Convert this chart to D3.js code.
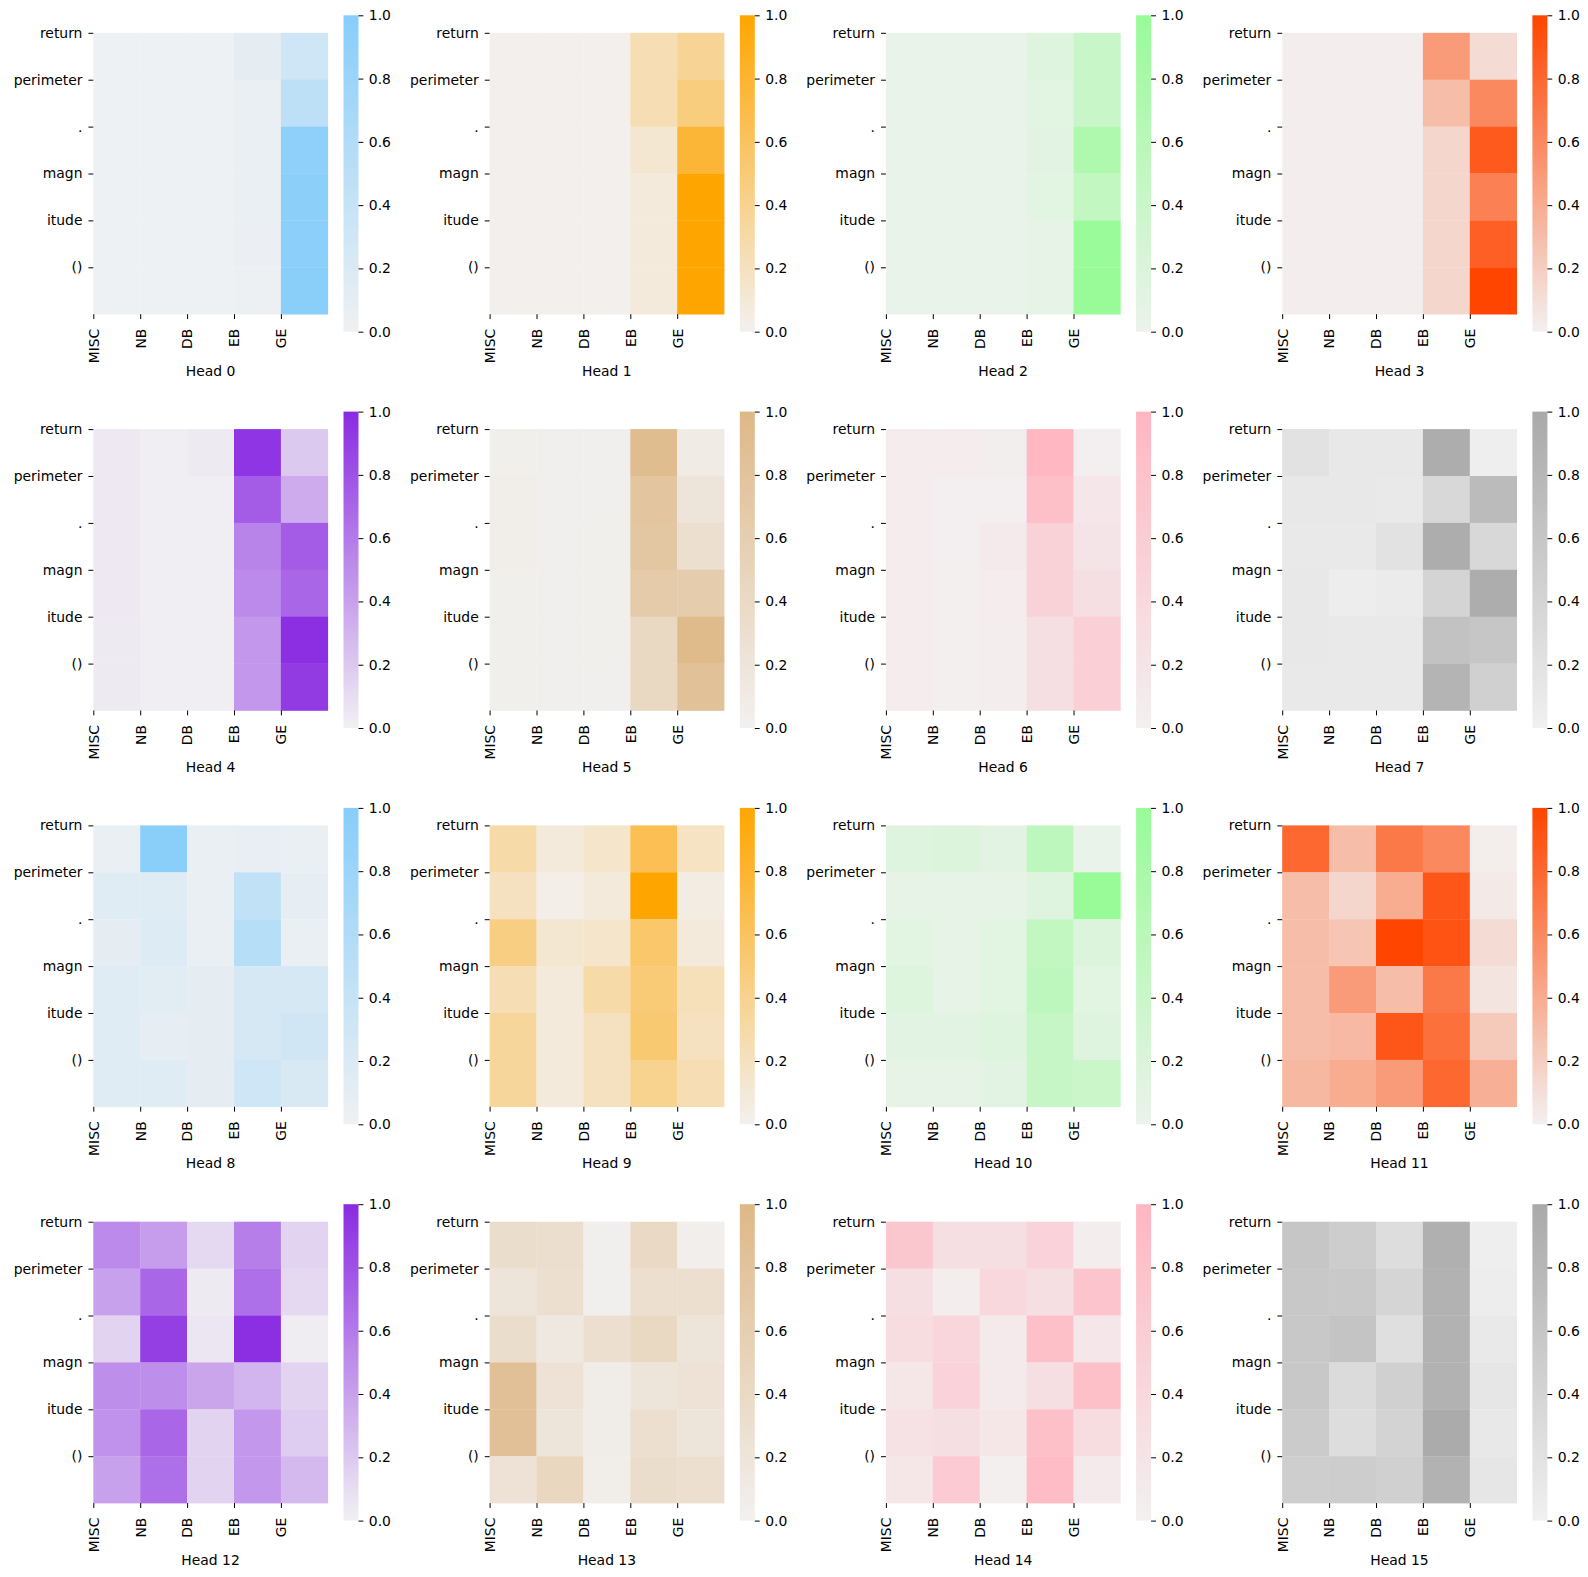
<!DOCTYPE html>
<html>
<head>
<meta charset="utf-8">
<script src="https://cdn.jsdelivr.net/npm/d3@7"></script>
<style>
  body { margin: 0; background: #fff; }
  svg { display: block; font-family: "DejaVu Sans", sans-serif; }
</style>
</head>
<body>
<svg id="chart"></svg>
<script>
// Token rows and category columns
const tokens = ['return', 'perimeter', '.', 'magn', 'itude', '()'];
const categories = ['MISC', 'NB', 'DB', 'EB', 'GE'];
const headColors = ['lightskyblue', 'orange', 'palegreen', 'orangered',
                    'blueviolet', 'burlywood', 'lightpink', 'darkgray'];
const colorbarTicks = [0, 0.2, 0.4, 0.6, 0.8, 1.0];

// Attention per head: one row per token, one column per category
const head0 = [
  [0.01, 0.01, 0.01, 0.10, 0.32],
  [0.01, 0.01, 0.01, 0.06, 0.47],
  [0.01, 0.01, 0.01, 0.05, 0.93],
  [0.01, 0.01, 0.01, 0.05, 0.95],
  [0.01, 0.01, 0.01, 0.04, 0.96],
  [0.01, 0.01, 0.01, 0.02, 0.97]
];
const head1 = [
  [0.01, 0.01, 0.01, 0.25, 0.37],
  [0.01, 0.01, 0.01, 0.25, 0.47],
  [0.01, 0.01, 0.01, 0.12, 0.77],
  [0.01, 0.01, 0.01, 0.08, 1.00],
  [0.01, 0.01, 0.01, 0.08, 1.00],
  [0.01, 0.01, 0.01, 0.08, 1.00]
];
const head2 = [
  [0.02, 0.02, 0.02, 0.15, 0.42],
  [0.02, 0.02, 0.02, 0.12, 0.42],
  [0.02, 0.02, 0.02, 0.10, 0.72],
  [0.02, 0.02, 0.02, 0.12, 0.50],
  [0.02, 0.02, 0.02, 0.05, 0.98],
  [0.02, 0.02, 0.02, 0.05, 1.00]
];
const head3 = [
  [0.01, 0.01, 0.01, 0.50, 0.12],
  [0.01, 0.01, 0.01, 0.30, 0.60],
  [0.01, 0.01, 0.01, 0.15, 0.88],
  [0.01, 0.01, 0.01, 0.15, 0.65],
  [0.01, 0.01, 0.01, 0.15, 0.85],
  [0.01, 0.01, 0.01, 0.15, 1.00]
];
const head4 = [
  [0.04, 0.01, 0.03, 0.95, 0.20],
  [0.04, 0.01, 0.01, 0.75, 0.35],
  [0.04, 0.01, 0.01, 0.55, 0.75],
  [0.04, 0.01, 0.01, 0.52, 0.70],
  [0.03, 0.01, 0.01, 0.45, 0.98],
  [0.03, 0.01, 0.01, 0.45, 0.92]
];
const head5 = [
  [0.03, 0.02, 0.02, 0.92, 0.10],
  [0.05, 0.02, 0.02, 0.77, 0.20],
  [0.05, 0.02, 0.03, 0.74, 0.30],
  [0.03, 0.02, 0.03, 0.67, 0.64],
  [0.03, 0.02, 0.03, 0.42, 0.95],
  [0.03, 0.02, 0.02, 0.42, 0.84]
];
const head6 = [
  [0.06, 0.06, 0.04, 0.98, 0.03],
  [0.06, 0.03, 0.03, 0.85, 0.15],
  [0.06, 0.03, 0.10, 0.52, 0.20],
  [0.06, 0.02, 0.06, 0.52, 0.30],
  [0.06, 0.02, 0.05, 0.30, 0.57],
  [0.06, 0.02, 0.05, 0.30, 0.55]
];
const head7 = [
  [0.20, 0.12, 0.12, 0.95, 0.03],
  [0.12, 0.12, 0.10, 0.35, 0.75],
  [0.10, 0.10, 0.20, 0.95, 0.35],
  [0.12, 0.05, 0.08, 0.40, 0.95],
  [0.12, 0.10, 0.10, 0.65, 0.60],
  [0.10, 0.10, 0.10, 0.85, 0.45]
];
const head8 = [
  [0.05, 0.97, 0.05, 0.07, 0.05],
  [0.15, 0.15, 0.06, 0.45, 0.08],
  [0.10, 0.18, 0.05, 0.55, 0.05],
  [0.15, 0.12, 0.10, 0.25, 0.25],
  [0.15, 0.08, 0.10, 0.25, 0.30],
  [0.15, 0.15, 0.10, 0.32, 0.22]
];
const head9 = [
  [0.30, 0.08, 0.15, 0.65, 0.18],
  [0.20, 0.03, 0.08, 1.00, 0.05],
  [0.45, 0.12, 0.15, 0.55, 0.08],
  [0.25, 0.08, 0.30, 0.50, 0.22],
  [0.35, 0.08, 0.20, 0.52, 0.20],
  [0.35, 0.08, 0.20, 0.40, 0.25]
];
const head10 = [
  [0.15, 0.20, 0.10, 0.55, 0.02],
  [0.06, 0.06, 0.06, 0.15, 1.00],
  [0.12, 0.07, 0.12, 0.50, 0.20],
  [0.17, 0.06, 0.12, 0.55, 0.12],
  [0.10, 0.10, 0.15, 0.45, 0.15],
  [0.05, 0.05, 0.10, 0.45, 0.40]
];
const head11 = [
  [0.80, 0.30, 0.70, 0.60, 0.02],
  [0.30, 0.15, 0.40, 0.90, 0.04],
  [0.30, 0.25, 1.00, 0.92, 0.12],
  [0.30, 0.50, 0.30, 0.70, 0.07],
  [0.30, 0.32, 0.90, 0.75, 0.22],
  [0.33, 0.40, 0.50, 0.80, 0.38]
];
const head12 = [
  [0.52, 0.42, 0.12, 0.58, 0.15],
  [0.40, 0.70, 0.03, 0.65, 0.12],
  [0.15, 0.90, 0.05, 0.98, 0.02],
  [0.50, 0.50, 0.38, 0.30, 0.15],
  [0.48, 0.70, 0.15, 0.45, 0.18],
  [0.40, 0.65, 0.15, 0.45, 0.28]
];
const head13 = [
  [0.35, 0.32, 0.02, 0.40, 0.04],
  [0.20, 0.30, 0.02, 0.30, 0.30],
  [0.35, 0.15, 0.30, 0.42, 0.20],
  [0.85, 0.25, 0.08, 0.20, 0.25],
  [0.85, 0.20, 0.08, 0.30, 0.20],
  [0.25, 0.45, 0.05, 0.35, 0.30]
];
const head14 = [
  [0.70, 0.30, 0.30, 0.50, 0.05],
  [0.30, 0.05, 0.42, 0.30, 0.75],
  [0.35, 0.45, 0.10, 0.85, 0.15],
  [0.18, 0.50, 0.10, 0.30, 0.85],
  [0.25, 0.30, 0.18, 0.85, 0.35],
  [0.18, 0.65, 0.02, 0.90, 0.12]
];
const head15 = [
  [0.60, 0.50, 0.28, 0.90, 0.03],
  [0.56, 0.55, 0.38, 0.88, 0.05],
  [0.56, 0.62, 0.25, 0.88, 0.10],
  [0.56, 0.30, 0.46, 0.87, 0.15],
  [0.52, 0.27, 0.42, 0.97, 0.12],
  [0.48, 0.50, 0.45, 0.88, 0.15]
];
const heads = [head0, head1, head2, head3, head4, head5, head6, head7,
               head8, head9, head10, head11, head12, head13, head14, head15];

// Set standards
const width = 1588;
const height = 1577;
const fontSize = 13.9;
const tickLen = 4.86;

const step = 396.3;         // distance between panels
const axLeft = 93.3;        // heatmap left in first column
const axTop = 15.3;         // axes box top in first row
const axW = 234.5;
const axH = 316.4;
const cbLeft = 343.5;
const cbW = 15;

// husl helpers (same maths as the husl module used by seaborn's light_palette)
const M = [[3.240969941904521, -1.537383177570093, -0.498610760293],
           [-0.96924363628087, 1.87596750150772, 0.041555057407175],
           [0.055630079696993, -0.20397695888897, 1.056971514242878]];
const M_INV = [[0.41239079926595, 0.35758433938387, 0.18048078840183],
               [0.21263900587151, 0.71516867876775, 0.072192315360733],
               [0.019330818715591, 0.11919477979462, 0.95053215224966]];
const refY = 1.0, refU = 0.19783000664283, refV = 0.46831999493879;
const labE = 0.008856, labK = 903.3;

function maxChroma(L, H) {
    const hrad = H * Math.PI / 180;
    const sinH = Math.sin(hrad), cosH = Math.cos(hrad);
    const sub1 = Math.pow(L + 16, 3) / 1560896;
    const sub2 = sub1 > 0.008856 ? sub1 : L / 903.3;
    let result = Infinity;
    M.forEach(([m1, m2, m3]) => {
        const top = (0.99915 * m1 + 1.05122 * m2 + 1.14460 * m3) * sub2;
        const rbottom = 0.86330 * m3 - 0.17266 * m2;
        const lbottom = 0.12949 * m3 - 0.38848 * m1;
        const bottom = (rbottom * sinH + lbottom * cosH) * sub2;
        [0, 1].forEach(t => {
            const C = L * (top - 1.05122 * t) / (bottom + 0.17266 * sinH * t);
            if (C > 0 && C < result) result = C;
        });
    });
    return result;
}
const dot = (a, b) => a[0] * b[0] + a[1] * b[1] + a[2] * b[2];
const f = t => t > labE ? Math.pow(t, 1 / 3) : 7.787 * t + 16 / 116;
const fInv = t => Math.pow(t, 3) > labE ? Math.pow(t, 3) : (116 * t - 16) / labK;
const fromLinear = c => c <= 0.0031308 ? 12.92 * c : 1.055 * Math.pow(c, 1 / 2.4) - 0.055;
const toLinear = c => c > 0.04045 ? Math.pow((c + 0.055) / 1.055, 2.4) : c / 12.92;

function rgbToHusl(r, g, b) {
    const rgbl = [r, g, b].map(toLinear);
    const [X, Y, Z] = M_INV.map(row => dot(row, rgbl));
    const denom = X + 15 * Y + 3 * Z;
    const L = 116 * f(Y / refY) - 16;
    const U = 13 * L * (4 * X / denom - refU);
    const V = 13 * L * (9 * Y / denom - refV);
    const C = Math.sqrt(U * U + V * V);
    let H = Math.atan2(V, U) * 180 / Math.PI;
    if (H < 0) H += 360;
    const S = C / maxChroma(L, H) * 100;
    return [H, S, L];
}

function huslToRgb(H, S, L) {
    const C = maxChroma(L, H) / 100 * S;
    const hrad = H * Math.PI / 180;
    const U = Math.cos(hrad) * C, V = Math.sin(hrad) * C;
    const varY = fInv((L + 16) / 116);
    const varU = U / (13 * L) + refU;
    const varV = V / (13 * L) + refV;
    const Y = varY * refY;
    const X = 0 - (9 * Y * varU) / ((varU - 4) * varV - varU * varV);
    const Z = (9 * Y - 15 * varV * Y - varV * X) / (3 * varV);
    return M.map(row => Math.min(1, Math.max(0, fromLinear(dot(row, [X, Y, Z])))));
}

// light palette: from a pale gray of the same hue up to the colour
function lightScale(name) {
    const c = d3.rgb(name);
    const [h, s] = rgbToHusl(c.r / 255, c.g / 255, c.b / 255);
    const gray = huslToRgb(h, 0.15 * s, 95);
    const low = d3.rgb(gray[0] * 255, gray[1] * 255, gray[2] * 255);
    return d3.scaleLinear().domain([0, 1]).range([low, c])
        .interpolate(d3.interpolateRgb).clamp(true);
}

const svg = d3.select('#chart')
    .attr('width', width)
    .attr('height', height)
    .attr('viewBox', [0, 0, width, height]);

const defs = svg.append('defs');

const cell = axW / categories.length;
const heatH = cell * tokens.length;

heads.forEach((data, h) => {
    const col = h % 4;
    const row = Math.floor(h / 4);
    const x0 = axLeft + col * step;
    const boxTop = axTop + row * step;
    const y0 = boxTop + (axH - heatH) / 2;
    const color = lightScale(headColors[h % headColors.length]);

    const x = d3.scaleLinear().domain([0, categories.length]).range([x0, x0 + axW]);
    const y = d3.scaleLinear().domain([0, tokens.length]).range([y0, y0 + heatH]);

    const g = svg.append('g').attr('class', 'panel');

    // Cells
    const cells = data.flatMap((r, i) => r.map((v, j) => ({i, j, v})));
    g.selectAll('rect.cell')
        .data(cells)
        .enter().append('rect')
        .attr('class', 'cell')
        .attr('x', d => x(d.j))
        .attr('y', d => y(d.i))
        .attr('width', d => x(d.j + 1) - x(d.j) + 0.3)
        .attr('height', d => y(d.i + 1) - y(d.i) + 0.3)
        .attr('fill', d => color(d.v));

    // Y axis (ticks sit on the cell edges)
    const yAxis = g.append('g')
        .attr('transform', `translate(${x0},0)`)
        .call(d3.axisLeft(y)
            .tickValues(d3.range(tokens.length))
            .tickFormat(i => tokens[i])
            .tickSize(tickLen)
            .tickPadding(6));
    yAxis.select('.domain').remove();
    yAxis.selectAll('text').attr('font-size', fontSize).attr('font-family', 'DejaVu Sans').attr('fill', '#000');
    yAxis.selectAll('line').attr('stroke', '#000').attr('stroke-width', 1);

    // X axis, labels turned upright
    const xAxis = g.append('g')
        .attr('transform', `translate(0,${y0 + heatH})`)
        .call(d3.axisBottom(x)
            .tickValues(d3.range(categories.length))
            .tickFormat(i => categories[i])
            .tickSize(tickLen));
    xAxis.select('.domain').remove();
    xAxis.selectAll('line').attr('stroke', '#000').attr('stroke-width', 1);
    xAxis.selectAll('text')
        .attr('font-size', fontSize)
        .attr('font-family', 'DejaVu Sans')
        .attr('fill', '#000')
        .attr('transform', 'rotate(-90)')
        .attr('x', -14.5)
        .attr('y', 0)
        .attr('dy', '0.35em')
        .attr('text-anchor', 'end');

    // Head label
    g.append('text')
        .attr('x', x0 + axW / 2)
        .attr('y', boxTop + 360.4)
        .attr('text-anchor', 'middle')
        .attr('font-size', fontSize)
        .attr('fill', '#000')
        .text(`Head ${h}`);

    // Colorbar
    const cbX = cbLeft + col * step;
    const cbScale = d3.scaleLinear().domain([0, 1]).range([boxTop + axH, boxTop]);
    const gradId = `grad${h}`;
    const grad = defs.append('linearGradient')
        .attr('id', gradId)
        .attr('x1', 0).attr('y1', 1).attr('x2', 0).attr('y2', 0);
    grad.selectAll('stop')
        .data(d3.range(0, 1.0001, 0.1))
        .enter().append('stop')
        .attr('offset', d => d)
        .attr('stop-color', d => color(d));
    g.append('rect')
        .attr('x', cbX)
        .attr('y', cbScale(1))
        .attr('width', cbW)
        .attr('height', cbScale(0) - cbScale(1))
        .attr('fill', `url(#${gradId})`);

    const cbAxis = g.append('g')
        .attr('transform', `translate(${cbX + cbW},0)`)
        .call(d3.axisRight(cbScale)
            .tickValues(colorbarTicks)
            .tickFormat(d3.format('.1f'))
            .tickSize(tickLen)
            .tickPadding(5.5));
    cbAxis.select('.domain').remove();
    cbAxis.selectAll('line').attr('stroke', '#000').attr('stroke-width', 1);
    cbAxis.selectAll('text').attr('font-size', fontSize).attr('font-family', 'DejaVu Sans').attr('fill', '#000');
});
</script>
</body>
</html>
